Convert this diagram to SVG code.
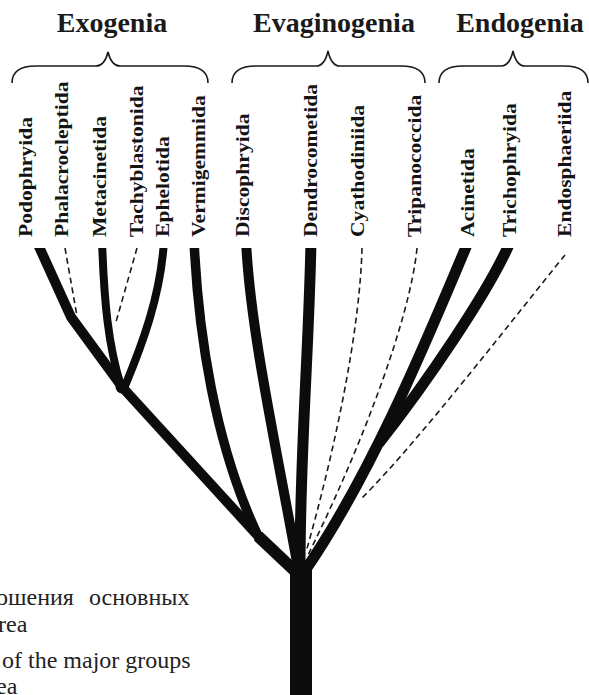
<svg xmlns="http://www.w3.org/2000/svg" width="589" height="695" viewBox="0 0 589 695">
<style>
.hdr{font-family:"Liberation Serif","Times New Roman",serif;font-weight:bold;font-size:28px;fill:#1a1a1a;text-anchor:middle}
.lab{font-family:"Liberation Serif","Times New Roman",serif;font-weight:bold;font-size:21.6px;fill:#141414}
.cap{font-family:"Liberation Serif","Times New Roman",serif;font-size:24px;fill:#222}
.brace{fill:none;stroke:#1a1a1a;stroke-width:1.6}
.thick{fill:none;stroke:#0c0c0c;stroke-linejoin:round}
.dash{fill:none;stroke:#1a1a1a;stroke-width:1.6;stroke-dasharray:6 4}
</style>
<defs>
<clipPath id="topcut"><rect x="0" y="248" width="589" height="447"/></clipPath>
</defs>
<rect width="589" height="695" fill="#fff"/>

<g id="exogenia">
<text class="hdr" x="112" y="32">Exogenia</text>
<path class="brace" d="M12,83 C12,72 20,66 36,66 L96,66 C102,66 106,60 108,52 C110,60 114,66 120,66 L184,66 C200,66 208,72 208,83"/>
</g>
<g id="evaginogenia">
<text class="hdr" x="334" y="32">Evaginogenia</text>
<path class="brace" d="M232,83 C232,72 240,66 256,66 L316,66 C322,66 326,60 328,51 C330,60 334,66 340,66 L401,66 C417,66 425,72 425,83"/>
</g>
<g id="endogenia">
<text class="hdr" x="520" y="32">Endogenia</text>
<path class="brace" d="M439,83 C439,72 447,66 463,66 L501,66 C507,66 511,60 513,51 C515,60 519,66 525,66 L564,66 C580,66 588,72 588,83"/>
</g>

<g id="labels">
<g id="n-podophryida"><text class="lab" transform="translate(32,237) rotate(-90) scale(1,0.9)">Podophryida</text></g>
<g id="n-phalacrocleptida"><text class="lab" transform="translate(68,237) rotate(-90) scale(1,0.9)">Phalacrocleptida</text></g>
<g id="n-metacinetida"><text class="lab" transform="translate(106,237) rotate(-90) scale(1,0.9)">Metacinetida</text></g>
<g id="n-tachyblastonida"><text class="lab" transform="translate(143,237) rotate(-90) scale(1,0.9)">Tachyblastonida</text></g>
<g id="n-ephelotida"><text class="lab" transform="translate(169,237) rotate(-90) scale(1,0.9)">Ephelotida</text></g>
<g id="n-vermigemmida"><text class="lab" transform="translate(205,237) rotate(-90) scale(1,0.9)">Vermigemmida</text></g>
<g id="n-discophryida"><text class="lab" transform="translate(249,237) rotate(-90) scale(1,0.9)">Discophryida</text></g>
<g id="n-dendrocometida"><text class="lab" transform="translate(317,237) rotate(-90) scale(1,0.9)">Dendrocometida</text></g>
<g id="n-cyathodiniida"><text class="lab" transform="translate(364,237) rotate(-90) scale(1,0.9)">Cyathodiniida</text></g>
<g id="n-tripanococcida"><text class="lab" transform="translate(421,237) rotate(-90) scale(1,0.9)">Tripanococcida</text></g>
<g id="n-acinetida"><text class="lab" transform="translate(474,237) rotate(-90) scale(1,0.9)">Acinetida</text></g>
<g id="n-trichophryida"><text class="lab" transform="translate(516,237) rotate(-90) scale(1,0.9)">Trichophryida</text></g>
<g id="n-endosphaeriida"><text class="lab" transform="translate(571,237) rotate(-90) scale(1,0.9)">Endosphaeriida</text></g>
</g>

<g id="connectors">
<g clip-path="url(#topcut)">
<path class="thick" stroke-width="10" d="M36,240 L71,317 L123,388"/>
<path class="thick" stroke-width="8" d="M102,240 C104,300 108,345 121,386"/>
<path class="thick" stroke-width="8" d="M164,240 C161,295 142,345 125,386"/>
<path class="thick" stroke-width="10" d="M123,388 L260,538"/>
<path class="thick" stroke-width="9.5" d="M194,240 C198,330 214,445 260,540"/>
<path class="thick" stroke-width="12" d="M258,536 L296,572"/>
<path class="thick" stroke-width="10" d="M246,240 C250,330 276,445 298,568"/>
<path class="thick" stroke-width="11" d="M311,240 C309,350 300,450 300,568"/>
<path class="thick" stroke-width="11" d="M469,240 C435,320 375,470 304,572"/>
<path class="thick" stroke-width="11" d="M511,240 C490,290 425,385 379,443"/>
</g>
<circle cx="122" cy="387" r="6.5" fill="#0c0c0c"/>
<path class="dash" d="M65,248 L77,316"/>
<path class="dash" d="M137,248 L116,322"/>
<path class="dash" d="M362,248 C360,330 335,450 306,552"/>
<path class="dash" d="M417,248 C410,320 360,450 308,555"/>
<path class="dash" d="M565,255 C520,310 420,440 362,498"/>
<rect x="290" y="566" width="22" height="130" fill="#0c0c0c"/>
</g>

<g id="caption">
<text class="cap" x="-4" y="605">ошения</text>
<text class="cap" x="89" y="605">основных</text>
<text class="cap" x="-2" y="632">rea</text>
<text class="cap" x="2" y="668">of the major groups</text>
<text class="cap" x="-4" y="694">ea</text>
</g>
</svg>
